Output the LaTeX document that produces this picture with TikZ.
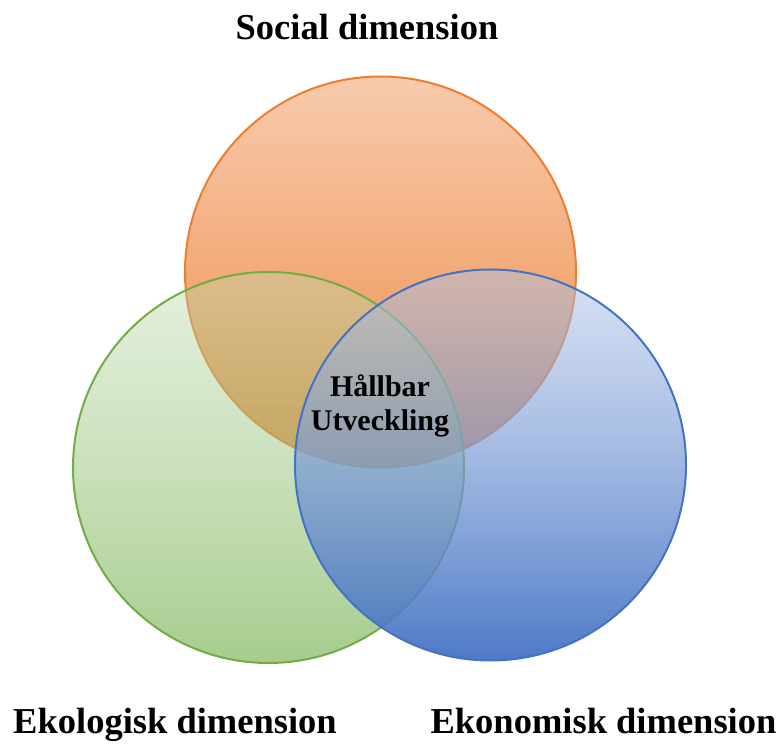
\documentclass[tikz,border=0pt]{standalone}
\usepackage{fontspec}
\setmainfont{Liberation Serif}
\usetikzlibrary{fadings}
\definecolor{orangeC}{HTML}{ED7D31}
\definecolor{greenC}{HTML}{70AD47}
\definecolor{blueC}{HTML}{4472C4}
\definecolor{greenT}{RGB}{188,216,170}
\definecolor{blueT}{RGB}{172,193,230}
\tikzfading[name=fadeO, top color=transparent!60, bottom color=transparent!10]
\tikzfading[name=fadeG, top color=transparent!60, bottom color=transparent!38]
\tikzfading[name=fadeB, top color=transparent!52, bottom color=transparent!5]
\tikzset{
  ring/.style={line width=2pt},
  dimlabel/.style={font=\fontsize{36.5}{40}\selectfont\bfseries, anchor=base, inner sep=0pt},
  centerlabel/.style={font=\fontsize{30}{34}\selectfont\bfseries, align=center, inner sep=0pt}
}
\begin{document}
\begin{tikzpicture}[x=1pt,y=1pt]
\useasboundingbox (0,0) rectangle (781,744);
\coordinate (cs) at (380.5,472);
\coordinate (ce) at (268.5,276.5);
\coordinate (ck) at (490.5,279);
% social (orange)
\fill[orangeC, path fading=fadeO] (cs) circle[radius=195.5];
\draw[orangeC, ring] (cs) circle[radius=195.5];
% ekologisk (green)
\shade[top color=greenT, bottom color=greenC, path fading=fadeG] (ce) circle[radius=195.5];
\draw[greenC, ring] (ce) circle[radius=195.5];
% ekonomisk (blue)
\shade[top color=blueT, bottom color=blueC, path fading=fadeB] (ck) circle[radius=195.5];
\draw[blueC, ring] (ck) circle[radius=195.5];
\node[dimlabel] (social) at (367,704) {Social dimension};
\node[dimlabel] (eko) at (175,11) {Ekologisk dimension};
\node[dimlabel] (ekon) at (603.5,11) {Ekonomisk dimension};
\node[centerlabel] (hallbar) at (380,338) {Hållbar\\Utveckling};
\end{tikzpicture}
\end{document}
